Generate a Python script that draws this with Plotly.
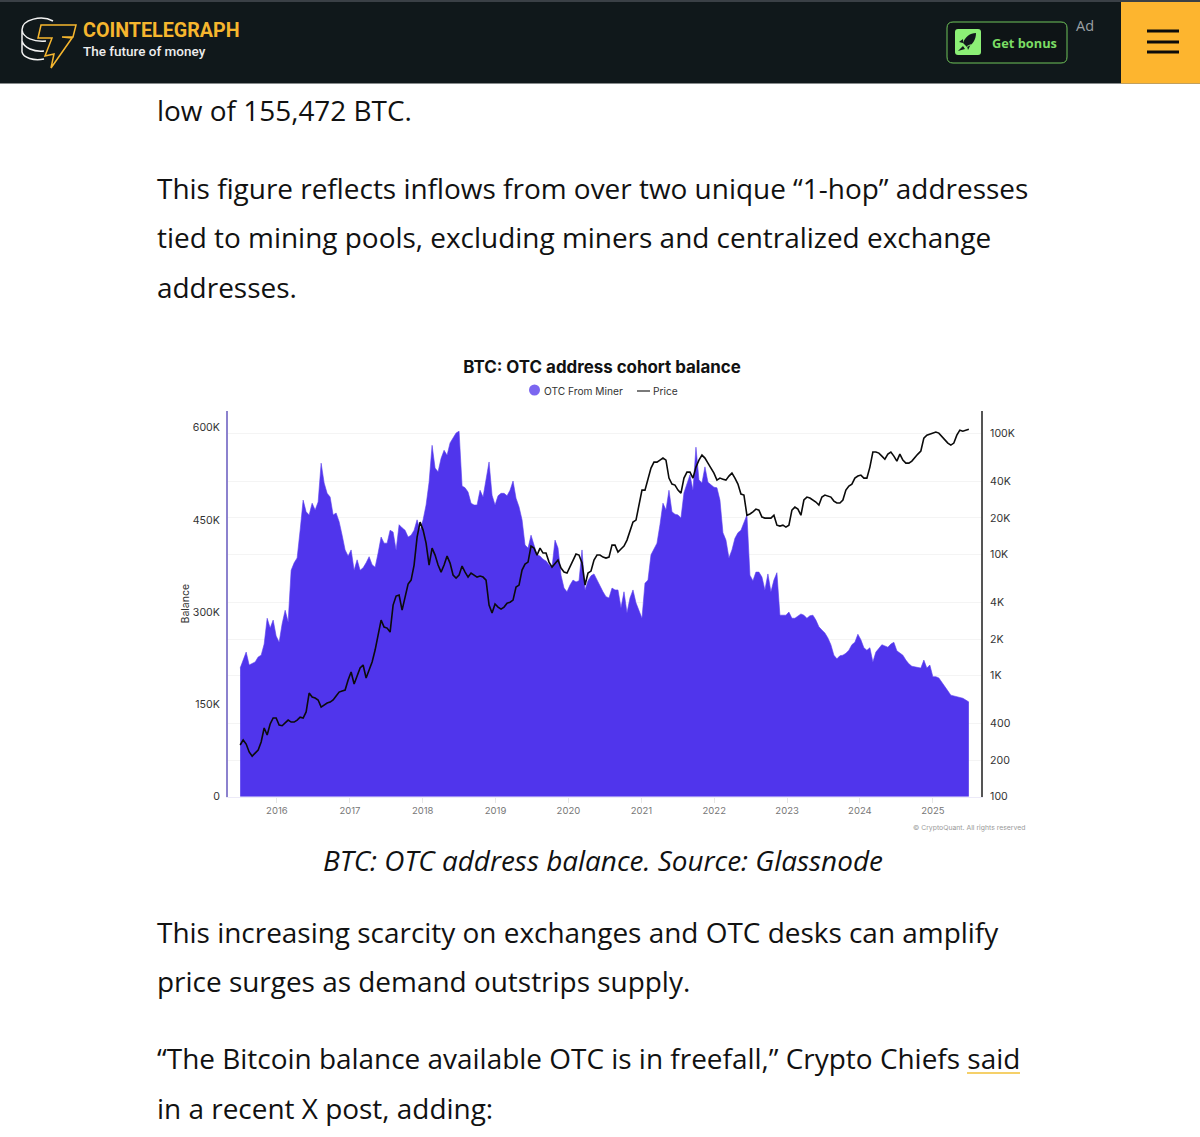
import pandas as pd
import plotly.graph_objects as go

W, H = 1200, 1137

balance_k = [
    209,222,235,214,216,219,227,230,248,290,274,287,261,251,281,303,284,368,380,388,433,482,463,458,477,466,479,542,510,493,
    487,458,461,447,425,401,391,401,368,385,368,372,380,390,377,373,396,422,412,412,433,430,401,442,437,433,422,425,433,450,
    433,450,474,511,571,534,528,550,563,555,575,583,591,594,505,502,495,477,474,474,498,487,515,544,490,474,489,493,493,489,
    498,513,485,471,450,409,404,425,409,393,391,386,383,377,373,417,404,360,339,333,344,352,349,351,401,336,351,359,362,352,
    343,333,325,323,339,336,336,307,333,299,323,336,315,303,290,347,352,393,404,412,442,477,466,498,463,459,458,453,494,507,
    523,498,568,515,510,536,511,507,503,502,482,429,417,388,401,420,429,433,447,458,360,351,365,365,357,336,362,333,352,364,
    295,295,295,300,290,290,294,297,295,290,294,295,287,276,271,266,258,247,230,224,229,230,233,238,247,251,264,255,242,238,
    242,219,235,242,247,245,243,248,251,237,234,230,222,216,212,211,211,209,222,209,214,195,195,193,186,178,172,165,164,162,
    162,160,157,154,
]

price_usd = [
    267,294,272,234,216,229,243,283,369,323,398,446,446,390,385,406,429,413,413,429,453,446,500,717,664,652,628,549,571,593,
    604,628,677,730,744,758,917,1068,851,1009,1152,1220,953,1109,1291,1622,2115,2867,2510,2460,2283,3813,4520,4610,3466,4354,5683,6130,8150,13870,
    18430,15836,12380,8150,11255,9856,8150,7133,8150,9670,8466,6741,6367,6741,7993,7133,6490,7002,6741,6490,6614,6490,6130,3813,3276,3887,3670,3532,3670,3950,
    4020,4190,5365,5575,7407,8308,8620,11690,11255,9856,11255,10237,10237,8620,7843,8466,8960,7700,7133,7002,7843,8960,10048,9856,8466,5575,7002,7270,8960,9856,
    9856,9486,9310,9486,11915,11915,10430,11050,11690,13100,15836,18430,19150,25480,33850,33850,40930,51400,57600,57600,59840,62200,59840,42530,37960,37270,33850,31990,42530,47640,
    47640,42530,52400,59840,65840,62200,56560,51400,46780,40930,42530,41700,40930,44200,46780,42530,38000,31400,30800,21000,21500,22400,23600,23150,20270,19900,19900,19900,21000,17400,
    17100,17400,16780,17400,23150,24500,23600,21000,28050,29650,29100,28050,27000,25480,29650,30800,30250,29650,27500,26480,26480,28050,33850,36600,37960,42530,44200,45050,42530,42530,
    52400,69800,69800,68400,64600,60900,67100,69800,64600,58700,67100,59840,56560,56560,58700,63300,67100,71200,91000,96200,98000,100000,102000,100000,94400,87400,82700,79600,82700,96200,
    105700,103700,105700,107800,
]

balance_ticks = [0, 150, 300, 450, 600]
balance_labels = ["0", "150K", "300K", "450K", "600K"]
price_ticks = [100, 200, 400, 1000, 2000, 4000, 10000, 20000, 40000, 100000]
price_labels = ["100", "200", "400", "1K", "2K", "4K", "10K", "20K", "40K", "100K"]

body_lines = [
    ("low of 155,472 BTC.", 111),
    ("This figure reflects inflows from over two unique “1-hop” addresses", 189),
    ("tied to mining pools, excluding miners and centralized exchange", 238),
    ("addresses.", 288),
    ("This increasing scarcity on exchanges and OTC desks can amplify", 933),
    ("price surges as demand outstrips supply.", 982),
    ("“The Bitcoin balance available OTC is in freefall,” Crypto Chiefs said", 1059),
    ("in a recent X post, adding:", 1109),
]

balance_dates = pd.date_range("2015-07-01", "2025-06-30", periods=len(balance_k))
price_dates = pd.date_range("2015-07-01", "2025-06-30", periods=len(price_usd))


def px(x, y):
    return f"{x / W:.5f},{1 - y / H:.5f}"


def path(cmds):
    out = []
    for c in cmds:
        if isinstance(c, str):
            out.append(c)
        else:
            out.append(px(*c))
    return " ".join(out)


def rect(x0, y0, x1, y1, color, **kw):
    return dict(type="rect", xref="paper", yref="paper", x0=x0 / W, x1=x1 / W, y0=1 - y1 / H, y1=1 - y0 / H,
                fillcolor=color, line=dict(width=0), **kw)


def seg(x0, y0, x1, y1, color, width):
    return dict(type="line", xref="paper", yref="paper", x0=x0 / W, x1=x1 / W, y0=1 - y0 / H, y1=1 - y1 / H,
                line=dict(color=color, width=width))


def text(t, x, y, size, color, family="Open Sans", anchor="left", weight=None, style=None):
    f = dict(size=size, color=color, family=family)
    if weight:
        f["weight"] = weight
    if style:
        f["style"] = style
    return dict(text=t, xref="paper", yref="paper", x=x / W, y=1 - y / H, xanchor=anchor, yanchor="middle",
                showarrow=False, font=f)


fig = go.Figure()
fig.add_trace(go.Scatter(x=balance_dates, y=balance_k, name="OTC From Miner", mode="lines", fill="tozeroy",
                         fillcolor="#5035EC", line=dict(color="#5A40EE", width=0.6), yaxis="y"))
fig.add_trace(go.Scatter(x=price_dates, y=price_usd, name="Price", mode="lines",
                         line=dict(color="#0b0b0b", width=1.6), yaxis="y2"))

NAV = "#10181B"
YEL = "#F6B62E"
GRN = "#7BDD64"
shapes = [
    rect(0, 0, 1200, 83.5, NAV),
    rect(0, 0, 1200, 2, "#3A4046"),
    rect(1121, 2, 1200, 83.5, "#FDB52F"),
    seg(1147, 31, 1179, 31, "#0b0b0b", 3),
    seg(1147, 42, 1179, 42, "#0b0b0b", 3),
    seg(1147, 52, 1179, 52, "#0b0b0b", 3),
    # bonus button
    dict(type="path", xref="paper", yref="paper",
         path=path(["M", (953, 22), "L", (1061, 22), "Q", (1067, 22), (1067, 28), "L", (1067, 57), "Q", (1067, 63), (1061, 63),
                    "L", (953, 63), "Q", (947, 63), (947, 57), "L", (947, 28), "Q", (947, 22), (953, 22), "Z"]),
         fillcolor="#0E1416", line=dict(color="#6FC45A", width=1)),
    dict(type="path", xref="paper", yref="paper",
         path=path(["M", (958, 29), "L", (978, 29), "Q", (981, 29), (981, 32), "L", (981, 52), "Q", (981, 55), (978, 55),
                    "L", (958, 55), "Q", (955, 55), (955, 52), "L", (955, 32), "Q", (955, 29), (958, 29), "Z"]),
         fillcolor="#8CF076", line=dict(width=0)),
    dict(type="path", xref="paper", yref="paper",
         path=path(["M", (976, 33), "C", (970, 33), (965, 37), (963, 43), "L", (967, 47), "C", (973, 45), (976, 39), (976, 33), "Z",
                    "M", (963, 39), "L", (959, 42), "L", (963, 43), "Z", "M", (971, 44), "L", (968, 50), "L", (967, 46), "Z",
                    "M", (963, 46), "L", (958, 51), "L", (965, 49), "Z"]),
         fillcolor="#11181D", line=dict(width=0)),
    # logo coins
    dict(type="path", xref="paper", yref="paper",
         path=path(["M", (53, 21), "C", (42, 15), (22, 19), (22, 30), "L", (22, 52), "C", (23, 58), (34, 61), (44, 59),
                    "M", (22, 30), "C", (23, 38), (34, 42), (46, 41),
                    "M", (22, 41), "C", (24, 48), (34, 52), (44, 51)]),
         line=dict(color="#F2F2F2", width=1.5)),
    # logo bolt
    dict(type="path", xref="paper", yref="paper",
         path=path(["M", (41, 25), "L", (76, 25), "L", (73, 37), "L", (62, 37), "L", (72, 38), "L", (51, 68), "L", (54, 54),
                    "L", (45, 56), "L", (52, 38), "L", (38, 38), "Z"]),
         fillcolor=NAV, line=dict(color=YEL, width=1.5)),
    # underline of linked word
    seg(967, 1073, 1020, 1073, "#F2C037", 1.5),
    # chart legend symbols
    dict(type="circle", xref="paper", yref="paper", x0=529 / W, x1=540 / W, y0=1 - 395.5 / H, y1=1 - 384.5 / H,
         fillcolor="#7B66F0", line=dict(width=0)),
    seg(637, 391, 650, 391, "#222222", 1.2),
]

annotations = [
    text("COINTELEGRAPH", 80.5, 30, 19.7, YEL, "Roboto", weight=700),
    text("The future of money", 80.5, 51, 13.5, "#EDEDED", "Roboto", weight=500),
    text("Get bonus", 989.5, 42.5, 12.8, GRN, "Open Sans", weight=700),
    text("Ad", 1073.5, 26, 14.5, "#9aa0a4"),
    text("OTC From Miner", 542, 391, 10.2, "#333333", "Inter"),
    text("Price", 651, 391, 10.2, "#333333", "Inter"),
    text("© CryptoQuant. All rights reserved", 911, 827, 6.85, "#999999", "Inter"),
    text("BTC: OTC address balance. Source: Glassnode", 602.5, 860, 27.9, "#111111", anchor="center", style="italic"),
]
annotations += [text(t, 154.5, y - 1, 27.95, "#111111") for t, y in body_lines]

y_bottom, y_top = 796.7, 410.7
fig.update_layout(
    width=W, height=H, autosize=False,
    margin=dict(l=0, r=0, t=0, b=0, autoexpand=False),
    paper_bgcolor="white", plot_bgcolor="white",
    showlegend=False,
    title=dict(text="<b>BTC: OTC address cohort balance</b>", x=602 / W, xanchor="center", y=1 - 367 / H, yanchor="middle",
               font=dict(family="Inter", size=16.9, color="#111111")),
    xaxis=dict(domain=[228 / W, 981 / W], range=["2015-05-01", "2025-08-30"], type="date", automargin=False,
               dtick="M12", tick0="2016-01-01", tickformat="%Y", ticks="outside", ticklen=5, tickcolor="#e6e6e6",
               showgrid=False, zeroline=False, showline=True, linecolor="#ECEAF8", linewidth=1,
               tickfont=dict(family="Inter", size=9.5, color="#777777")),
    yaxis=dict(domain=[1 - y_bottom / H, 1 - y_top / H], range=[0, (y_bottom - y_top) / 92.3 * 150], automargin=False,
               tickvals=balance_ticks, ticktext=balance_labels, ticks="outside", ticklen=4, tickcolor="rgba(0,0,0,0)",
               showgrid=False, zeroline=False, showline=True, linecolor="#8C82CE", linewidth=2,
               tickfont=dict(family="Inter", size=10.6, color="#333333"),
               title=dict(text="Balance", standoff=1, font=dict(family="Inter", size=10.5, color="#333333"))),
    yaxis2=dict(domain=[1 - y_bottom / H, 1 - y_top / H], overlaying="y", side="right", anchor="x", type="log", automargin=False,
                range=[2, 2 + (y_bottom - y_top) / 121.2],
                tickvals=price_ticks, ticktext=price_labels, ticks="outside", ticklen=5, tickcolor="rgba(0,0,0,0)",
                showgrid=True, gridcolor="#F4F4F4", gridwidth=1, zeroline=False,
                showline=True, linecolor="#555555", linewidth=2,
                tickfont=dict(family="Inter", size=10.6, color="#333333")),
    shapes=shapes, annotations=annotations,
)

fig.write_html("out.html", config={"displayModeBar": False},
               post_script="document.body.style.margin='0';document.body.style.overflow='hidden';")
print(len(balance_k), len(price_usd))
